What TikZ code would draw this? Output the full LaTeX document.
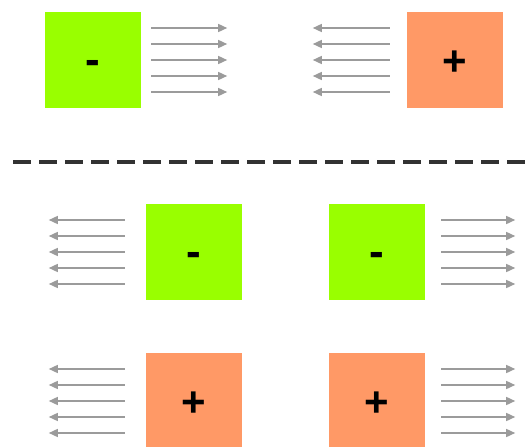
\documentclass[tikz,border=0pt]{standalone}
\usepackage{fontspec}
\setmainfont{Liberation Sans}
\usepackage{tikz}
\usetikzlibrary{arrows.meta, calc}
\definecolor{mygreen}{RGB}{153,255,0}
\definecolor{myorange}{RGB}{255,153,102}
\definecolor{mygray}{RGB}{155,155,155}
\definecolor{mydark}{RGB}{50,50,50}
\tikzset{
  negbox/.style={rectangle, fill=mygreen, minimum size=96pt, inner sep=0pt,
    text height=29.4pt, text depth=0pt,
    font=\fontsize{44}{44}\selectfont\bfseries},
  posbox/.style={rectangle, fill=myorange, minimum size=96pt, inner sep=0pt,
    text height=30.8pt, text depth=0pt,
    font=\fontsize{42}{42}\selectfont\bfseries},
  fieldarrow/.style={-{Triangle[length=9pt,width=8pt]}, line width=1.5pt, color=mygray},
  divider/.style={line width=4.5pt, color=mydark, dash pattern=on 17.5pt off 8.5pt}
}

\begin{document}
\begin{tikzpicture}[x=1pt, y=-1pt]
  \useasboundingbox (0,0) rectangle (528,447);

  % top row
  \node[negbox] (negA) at (93,60) {-};
  \node[posbox] (posA) at (454.5,60) {+};
  \foreach \dy [count=\i] in {-32,-16,0,16,32} {
    \coordinate (aS\i) at ($(negA.east)+(10,\dy)$);
    \coordinate (aE\i) at ($(negA.east)+(86,\dy)$);
    \draw[fieldarrow] (aS\i) -- (aE\i);
    \coordinate (bS\i) at ($(posA.west)+(-16.5,\dy)$);
    \coordinate (bE\i) at ($(posA.west)+(-93.5,\dy)$);
    \draw[fieldarrow] (bS\i) -- (bE\i);
  }

  % divider
  \coordinate (divL) at (13,162);
  \coordinate (divR) at (540,162);
  \draw[divider] (divL) -- (divR);

  % bottom rows
  \node[negbox] (negB) at (194,252) {-};
  \node[negbox] (negC) at (376.5,252) {-};
  \node[posbox] (posB) at (194,401) {+};
  \node[posbox] (posC) at (376.5,401) {+};
  \foreach \sq in {negB, posB} {
    \foreach \dy [count=\i] in {-32,-16,0,16,32} {
      \coordinate (\sq S\i) at ($(\sq.west)+(-21,\dy)$);
      \coordinate (\sq E\i) at ($(\sq.west)+(-97,\dy)$);
      \draw[fieldarrow] (\sq S\i) -- (\sq E\i);
    }
  }
  \foreach \sq in {negC, posC} {
    \foreach \dy [count=\i] in {-32,-16,0,16,32} {
      \coordinate (\sq S\i) at ($(\sq.east)+(16.5,\dy)$);
      \coordinate (\sq E\i) at ($(\sq.east)+(90.5,\dy)$);
      \draw[fieldarrow] (\sq S\i) -- (\sq E\i);
    }
  }
\end{tikzpicture}
\end{document}
